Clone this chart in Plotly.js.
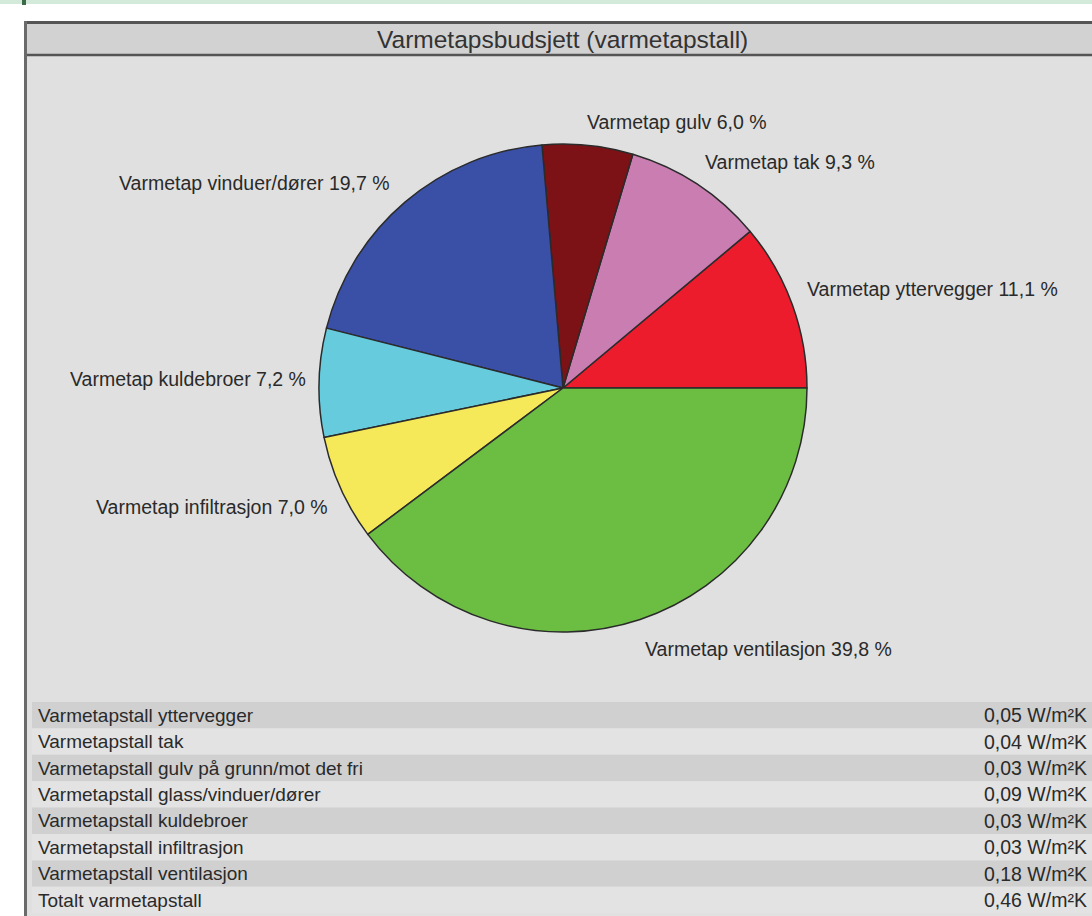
<!DOCTYPE html>
<html>
<head>
<meta charset="utf-8">
<script src="https://cdn.plot.ly/plotly-3.0.1.min.js"></script>
<style>
html,body{margin:0;padding:0;background:#fff;}
#chart{width:1092px;height:916px;}
</style>
</head>
<body>
<div id="chart"></div>
<script>
// ---- data ----
const chartTitle = "Varmetapsbudsjett (varmetapstall)";
const sliceNames = ["yttervegger", "tak", "gulv", "vinduer/dører", "kuldebroer", "infiltrasjon", "ventilasjon"];
const slicePercents = [11.1, 9.3, 6.0, 19.7, 7.2, 7.0, 39.8];
const sliceColors = ["#ec1c2d", "#c97db1", "#7c1216", "#3a4fa6", "#66cbdd", "#f5e95a", "#6bbe42"];

const tableLabels = [
  "Varmetapstall yttervegger",
  "Varmetapstall tak",
  "Varmetapstall gulv på grunn/mot det fri",
  "Varmetapstall glass/vinduer/dører",
  "Varmetapstall kuldebroer",
  "Varmetapstall infiltrasjon",
  "Varmetapstall ventilasjon",
  "Totalt varmetapstall"
];
const tableValues = [0.05, 0.04, 0.03, 0.09, 0.03, 0.03, 0.18, 0.46];
const tableUnit = "W/m²K";

// ---- layout helpers (pixel -> paper) ----
const W = 1092, H = 916;
const px = x => x / W;
const py = y => 1 - y / H;
const fmt = (v, d) => v.toFixed(d).replace(".", ",");

// label anchor positions (pixels) for slice labels
const labelPos = [
  {x: 805, y: 289, anchor: "left"},
  {x: 703, y: 162, anchor: "left"},
  {x: 585, y: 122, anchor: "left"},
  {x: 392, y: 183, anchor: "right"},
  {x: 308, y: 379, anchor: "right"},
  {x: 330, y: 507, anchor: "right"},
  {x: 643, y: 649, anchor: "left"}
];

const FONT = "Liberation Sans, Arial, sans-serif";
const TXT = "#2a2a2a";

const cx = 563, cy = 388, r = 244;

// first slice starts at 3 o'clock and runs counterclockwise
const total = slicePercents.reduce((a, b) => a + b, 0);
const startRotation = 90 - slicePercents[0] / total * 360;

const trace = {
  type: "pie",
  values: slicePercents,
  labels: sliceNames,
  marker: {colors: sliceColors, line: {color: "#2b2b2b", width: 1.5}},
  sort: false,
  direction: "counterclockwise",
  rotation: startRotation,
  textinfo: "none",
  hoverinfo: "label+percent",
  showlegend: false,
  domain: {x: [px(cx - r), px(cx + r)], y: [py(cy + r), py(cy - r)]}
};

const shapes = [];
const annotations = [];

// top green strip (page context)
shapes.push({type: "rect", xref: "paper", yref: "paper", x0: 0, x1: 1, y0: py(4), y1: py(0), fillcolor: "#d3eadb", line: {width: 0}, layer: "below"});
shapes.push({type: "rect", xref: "paper", yref: "paper", x0: px(22), x1: px(26), y0: py(5), y1: py(0), fillcolor: "#3d6b4a", line: {width: 0}, layer: "below"});
// panel background
shapes.push({type: "rect", xref: "paper", yref: "paper", x0: px(25), x1: px(1095), y0: py(916), y1: py(22), fillcolor: "#e0e0e0", line: {width: 0}, layer: "below"});
// header bar
shapes.push({type: "rect", xref: "paper", yref: "paper", x0: px(25), x1: px(1095), y0: py(55), y1: py(22), fillcolor: "#d2d2d2", line: {width: 0}, layer: "below"});
// header lines
shapes.push({type: "line", xref: "paper", yref: "paper", x0: px(24), x1: px(1095), y0: py(22.5), y1: py(22.5), line: {color: "#555", width: 3}, layer: "below"});
shapes.push({type: "line", xref: "paper", yref: "paper", x0: px(24), x1: px(1095), y0: py(55), y1: py(55), line: {color: "#555", width: 2.5}, layer: "below"});
// left border
shapes.push({type: "line", xref: "paper", yref: "paper", x0: px(25.5), x1: px(25.5), y0: py(916), y1: py(21), line: {color: "#6a6a6a", width: 3}, layer: "below"});

// title
annotations.push({xref: "paper", yref: "paper", x: px(562), y: py(39), xanchor: "center", yanchor: "middle",
  text: chartTitle, showarrow: false, font: {family: FONT, size: 24.5, color: "#333"}});

// slice labels
sliceNames.forEach((n, i) => {
  const p = labelPos[i];
  annotations.push({xref: "paper", yref: "paper", x: px(p.x), y: py(p.y), xanchor: p.anchor, yanchor: "middle",
    text: "Varmetap " + n + " " + fmt(slicePercents[i], 1) + " %", showarrow: false,
    font: {family: FONT, size: 19.5, color: TXT}});
});

// table rows
const rowTop = 702, rowH = 26.4;
tableLabels.forEach((lab, i) => {
  const y0 = rowTop + i * rowH, y1 = y0 + rowH;
  shapes.push({type: "rect", xref: "paper", yref: "paper", x0: px(32), x1: px(1095), y0: py(y1), y1: py(y0),
    fillcolor: i % 2 === 0 ? "#d0d0d0" : "#e3e3e3", line: {width: 0}, layer: "below"});
  annotations.push({xref: "paper", yref: "paper", x: px(36), y: py(y0 + rowH / 2), xanchor: "left", yanchor: "middle",
    text: lab, showarrow: false, font: {family: FONT, size: 19, color: TXT}});
  annotations.push({xref: "paper", yref: "paper", x: px(1089), y: py(y0 + rowH / 2), xanchor: "right", yanchor: "middle",
    text: fmt(tableValues[i], 2) + " " + tableUnit, showarrow: false, font: {family: FONT, size: 19.5, color: TXT}});
});

const layout = {
  width: W, height: H,
  margin: {l: 0, r: 0, t: 0, b: 0},
  paper_bgcolor: "#ffffff",
  showlegend: false,
  shapes: shapes,
  annotations: annotations
};

Plotly.newPlot("chart", [trace], layout, {displayModeBar: false, staticPlot: true});
</script>
</body>
</html>
